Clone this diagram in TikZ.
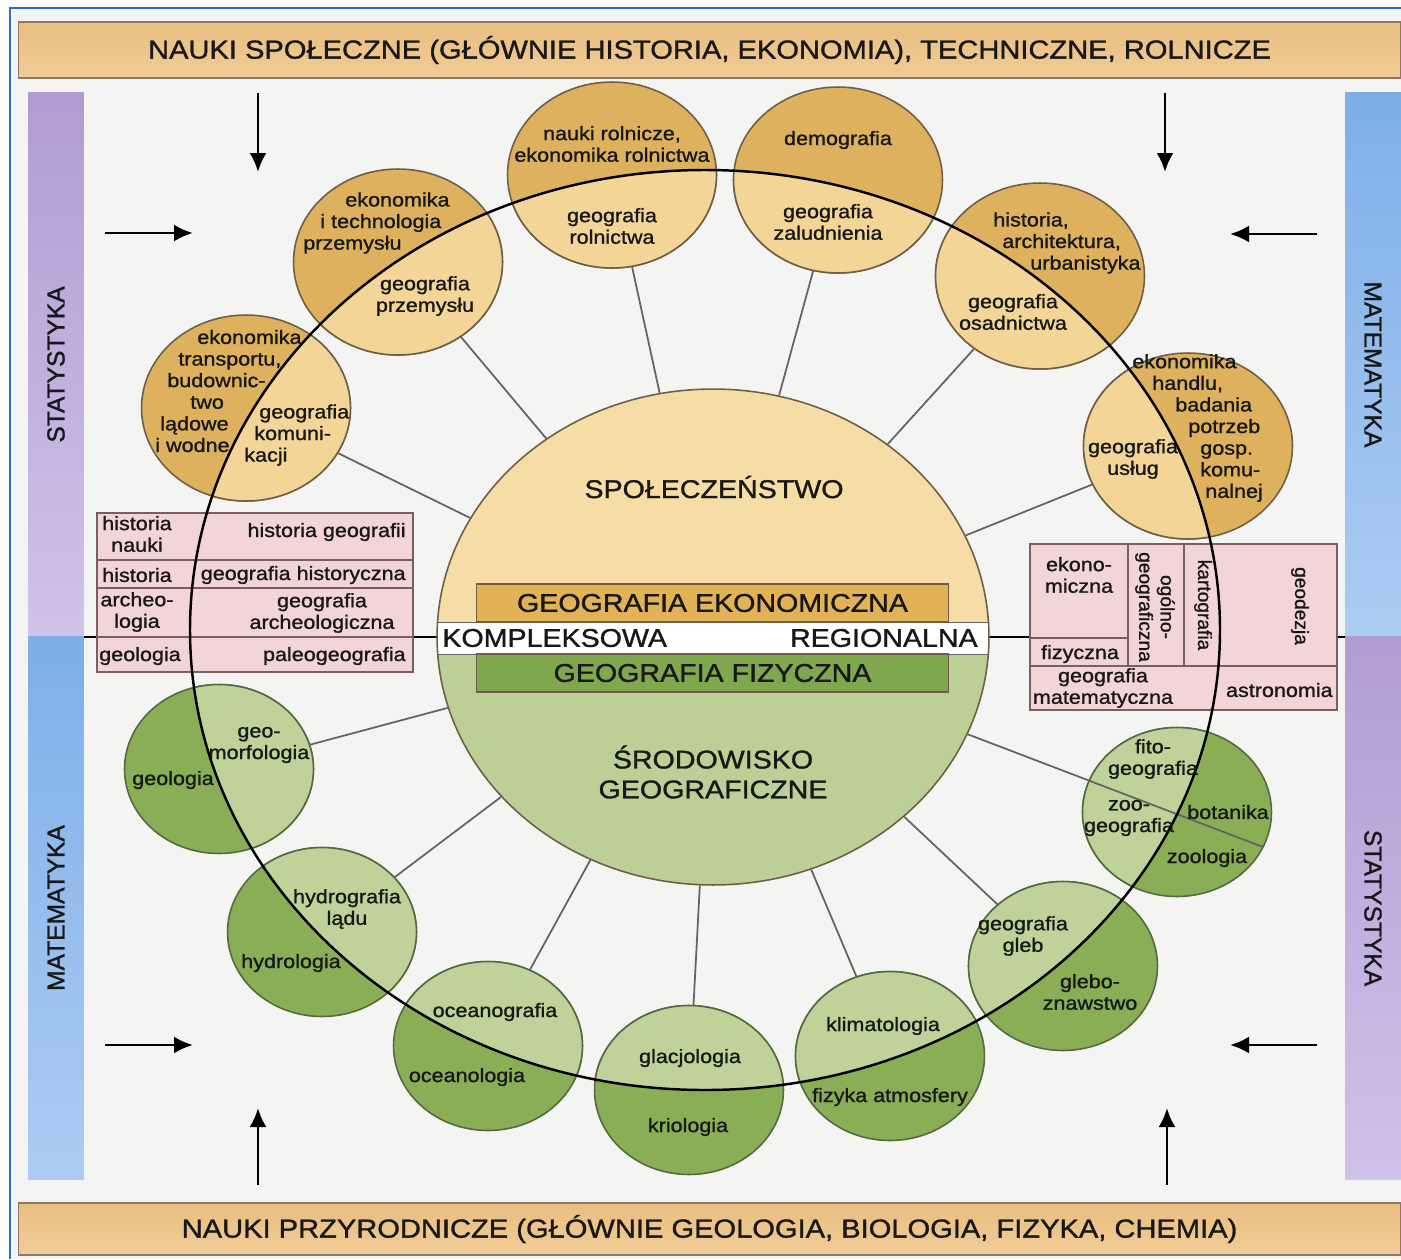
\documentclass[tikz,border=0pt]{standalone}
\usepackage{fontspec}
\setmainfont{Liberation Sans}[FakeStretch=1.115, FakeBold=1.2]
\newfontfamily\rotfont{Liberation Sans}[FakeBold=1.2]
\usetikzlibrary{shapes.geometric, arrows.meta, backgrounds}

\definecolor{paper}{RGB}{244,244,242}
\definecolor{frameblue}{RGB}{45,110,185}
\definecolor{ink}{RGB}{24,24,24}
\definecolor{orD}{RGB}{222,177,94}
\definecolor{orL}{RGB}{243,213,152}
\definecolor{orC}{RGB}{246,221,166}
\definecolor{orB}{RGB}{226,178,86}
\definecolor{grD}{RGB}{137,174,86}
\definecolor{grL}{RGB}{191,210,153}
\definecolor{grC}{RGB}{187,207,150}
\definecolor{grB}{RGB}{127,167,77}
\definecolor{pinkT}{RGB}{243,213,216}
\definecolor{barA}{RGB}{233,190,128}
\definecolor{barB}{RGB}{240,204,150}
\definecolor{barline}{RGB}{140,120,100}
\definecolor{purD}{RGB}{176,156,210}
\definecolor{purL}{RGB}{208,194,234}
\definecolor{bluD}{RGB}{126,174,232}
\definecolor{bluL}{RGB}{172,204,242}
\definecolor{edgeor}{RGB}{110,95,70}
\definecolor{edgegr}{RGB}{85,105,65}
\definecolor{linkgrey}{RGB}{100,100,100}
\definecolor{cellline}{RGB}{120,95,100}

\tikzset{
  bubor/.style={ellipse, draw=edgeor, line width=0.9pt, inner sep=0pt, minimum width=4.18cm, minimum height=3.72cm},
  bubgr/.style={ellipse, draw=edgegr, line width=0.9pt, inner sep=0pt, minimum width=3.78cm, minimum height=3.38cm},
  lbl/.style={font=\fontsize{11}{12.3}\selectfont, align=center, inner sep=0pt, text=ink},
  lbll/.style={lbl, align=left, anchor=west},
  big/.style={font=\fontsize{14.6}{17}\selectfont, align=center, inner sep=0pt, text=ink},
  rotlbl/.style={font=\rotfont\fontsize{10.9}{12.3}\selectfont, align=center, inner sep=0pt, text=ink, rotate=-90},
  link/.style={draw=linkgrey, line width=1pt},
  ring/.style={draw=black, line width=1.4pt},
  inarrow/.style={line width=1.6pt, -{Latex[length=3.8mm,width=3.4mm]}},
  cell/.style={draw=cellline, line width=0.8pt},
  bar/.style={draw=barline, line width=0.6pt, top color=barA, bottom color=barB, minimum width=27.66cm, inner sep=0pt, text=ink, font=\fontsize{14.85}{17}\selectfont},
  sidebar/.style={inner sep=0pt, minimum width=10.87cm, minimum height=1.12cm, text=ink, font=\rotfont\fontsize{14}{16}\selectfont},
  geobox/.style={draw=edgeor, line width=0.6pt, minimum width=9.46cm, minimum height=0.76cm, inner sep=0pt, text=ink, font=\fontsize{14.6}{17}\selectfont}
}

\begin{document}
\begin{tikzpicture}[x=0.02cm, y=-0.02cm]
\useasboundingbox (0,0) rectangle (1401,1259);
\begin{scope}[on background layer]
  \fill[white] (0,0) rectangle (1401,1259);
  \fill[paper] (10,8) rectangle (1401,1259);
  \draw[frameblue, line width=1.2pt] (10,1259) -- (10,8) -- (1401,8);
\end{scope}

\node[bar, minimum height=1.12cm] (socbar) at (709.5,50) {NAUKI SPOŁECZNE (GŁÓWNIE HISTORIA, EKONOMIA), TECHNICZNE, ROLNICZE};
\node[bar, minimum height=1.04cm] (natbar) at (709.5,1229) {NAUKI PRZYRODNICZE (GŁÓWNIE GEOLOGIA, BIOLOGIA, FIZYKA, CHEMIA)};

\node[sidebar, rotate=90, top color=purD, bottom color=purL] (statL) at (56,364.5) {STATYSTYKA};
\node[sidebar, rotate=90, top color=bluD, bottom color=bluL] (matL) at (56,908) {MATEMATYKA};
\node[sidebar, rotate=-90, top color=bluD, bottom color=bluL] (matR) at (1373,364.5) {MATEMATYKA};
\node[sidebar, rotate=-90, top color=purD, bottom color=purL] (statR) at (1373,908) {STATYSTYKA};

\foreach \name/\ax/\ay/\bx/\by in {tlv/258/93/258/172, tlh/105/233/193/233, trv/1165/93/1165/172, trh/1317/234/1230/234, blh/105/1045/193/1045, blv/258/1185/258/1108, brh/1317/1045/1230/1045, brv/1167/1185/1167/1108} {
  \coordinate (\name-s) at (\ax,\ay);
  \coordinate (\name-e) at (\bx,\by);
  \draw[inarrow] (\name-s) -- (\name-e);
}

\begin{scope}
  \clip (713,637) ellipse (276 and 248);
  \fill[grC] (420,637) rectangle (1010,900);
  \fill[orC] (420,380) rectangle (1010,637);
  \fill[white] (420,622) rectangle (1010,654);
  \draw[linkgrey, line width=0.5pt] (420,622) -- (1010,622) (420,654) -- (1010,654);
\end{scope}
\node[ellipse, draw=edgeor, line width=0.9pt, inner sep=0pt, minimum width=11.04cm, minimum height=9.92cm] (ctr) at (713,637) {};
\node[geobox, fill=orB] (ekon) at (712.5,603) {GEOGRAFIA EKONOMICZNA};
\node[geobox, fill=grB] (fizy) at (712.5,673) {GEOGRAFIA FIZYCZNA};

\node[bubor, fill=orD] (prz) at (398,262) {};
\node[bubor, fill=orD] (trn) at (246,408) {};
\node[bubor, fill=orD] (rol) at (612,175) {};
\node[bubor, fill=orD] (dem) at (838,180) {};
\node[bubor, fill=orD] (osa) at (1040,276) {};
\node[bubor, fill=orD] (usl) at (1188,446) {};
\node[bubgr, fill=grD] (mor) at (219,769) {};
\node[bubgr, fill=grD] (hyd) at (322,932) {};
\node[bubgr, fill=grD] (oce) at (488,1046) {};
\node[bubgr, fill=grD] (gla) at (689,1090) {};
\node[bubgr, fill=grD] (kli) at (890,1056) {};
\node[bubgr, fill=grD] (gle) at (1063,966) {};
\node[bubgr, fill=grD] (bio) at (1177,812) {};

\coordinate (rc) at (705,630);
\begin{scope}
  \clip (rc) ellipse (515 and 460);
  \foreach \n in {prz,trn,rol,dem,osa,usl}
    \node[bubor, fill=orL] (\n-in) at (\n) {};
  \foreach \n in {mor,hyd,oce,gla,kli,gle,bio}
    \node[bubgr, fill=grL] (\n-in) at (\n) {};
\end{scope}

\coordinate (bioend) at (1263,847);
\draw[link] (ctr) -- (bioend);

\draw[cell, fill=pinkT] (97,513) rectangle (413,672);
\draw[cell] (97,560) -- (413,560) (97,588) -- (413,588) (97,637) -- (413,637);
\draw[cell, fill=pinkT] (1030,544) rectangle (1337,710);
\draw[cell] (1030,638) -- (1128,638) (1030,666) -- (1337,666);
\draw[cell] (1128,544) -- (1128,666) (1184,544) -- (1184,666);

\draw[ring] (rc) ellipse (515 and 460);

\begin{scope}[on background layer]
  \coordinate (axisL) at (84,637);
  \coordinate (axisR) at (1345,637);
  \draw[black, line width=0.8pt] (axisL) -- (axisR);
  \foreach \n in {prz,trn,rol,dem,osa,usl,mor,hyd,oce,gla,kli,gle}
    \draw[link] (ctr) -- (\n);
\end{scope}

\node[big] (spol) at (714,487) {SPOŁECZEŃSTWO};
\node[big] (srod) at (713,772) {ŚRODOWISKO\\GEOGRAFICZNE};
\node[big, anchor=west] (komp) at (442,638) {KOMPLEKSOWA};
\node[big, anchor=east] (regi) at (978,638) {REGIONALNA};

\node[lbll] (prz-a) at (303,223) {\hspace*{8.4mm}ekonomika\\\hspace*{3.4mm}i technologia\\przemysłu};
\node[lbl] (prz-b) at (425,296) {geografia\\przemysłu};
\node[lbll] (trn-a) at (155,391) {\hspace*{8.4mm}ekonomika\\\hspace*{4.6mm}transportu,\\\hspace*{2.4mm}budownic-\\\hspace*{7mm}two\\\hspace*{1mm}lądowe\\i wodne};
\node[lbll] (trn-b) at (244,435) {\hspace*{3mm}geografia\\\hspace*{2mm}komuni-\\kacji};
\node[lbl] (rol-a) at (612,144) {nauki rolnicze,\\ekonomika rolnictwa};
\node[lbl] (rol-b) at (612,226) {geografia\\rolnictwa};
\node[lbl] (dem-a) at (838,140) {demografia};
\node[lbl] (dem-b) at (828,222) {geografia\\zaludnienia};
\node[lbll] (osa-a) at (993,243) {historia,\\\hspace*{1.8mm}architektura,\\\hspace*{7.4mm}urbanistyka};
\node[lbl] (osa-b) at (1013,312) {geografia\\osadnictwa};
\node[lbll] (usl-a) at (1132,428) {ekonomika\\\hspace*{4mm}handlu,\\\hspace*{8.6mm}badania\\\hspace*{11.2mm}potrzeb\\\hspace*{13.6mm}gosp.\\\hspace*{13.6mm}komu-\\\hspace*{14.6mm}nalnej};
\node[lbl] (usl-b) at (1133,459) {geografia\\usług};

\node[lbl] (mor-a) at (173,780) {geologia};
\node[lbl] (mor-b) at (259,745) {geo-\\morfologia};
\node[lbl] (hyd-a) at (291,963) {hydrologia};
\node[lbl] (hyd-b) at (347,909) {hydrografia\\lądu};
\node[lbl] (oce-b) at (495,1012) {oceanografia};
\node[lbl] (oce-a) at (467,1077) {oceanologia};
\node[lbl] (gla-b) at (690,1058) {glacjologia};
\node[lbl] (gla-a) at (688,1127) {kriologia};
\node[lbl] (kli-b) at (883,1026) {klimatologia};
\node[lbl] (kli-a) at (890,1097) {fizyka atmosfery};
\node[lbl] (gle-b) at (1023,936) {geografia\\gleb};
\node[lbl] (gle-a) at (1090,992) {glebo-\\znawstwo};
\node[lbl] (bio-b) at (1153,759) {fito-\\geografia};
\node[lbl] (bio-c) at (1129,818) {zoo-\\geografia};
\node[lbl] (bio-a) at (1228,812) {botanika};
\node[lbl] (bio-d) at (1207,858) {zoologia};

\node[lbl] (hnau) at (137,534) {historia\\nauki};
\node[lbl, anchor=east] (hgeo) at (406,532) {historia geografii};
\node[lbl] (hist) at (137,575) {historia};
\node[lbl, anchor=east] (ghist) at (406,575) {geografia historyczna};
\node[lbl] (arch) at (137,612) {archeo-\\logia};
\node[lbl] (garch) at (322,613) {geografia\\archeologiczna};
\node[lbl] (geol) at (140,656) {geologia};
\node[lbl, anchor=east] (paleo) at (406,656) {paleogeografia};

\node[lbl] (ekm) at (1079,575) {ekono-\\miczna};
\node[lbl] (fizc) at (1080,654) {fizyczna};
\node[rotlbl] (ogol) at (1155,607) {ogólno-\\geograficzna};
\node[rotlbl] (kart) at (1203,605) {kartografia};
\node[rotlbl] (geod) at (1300,606) {geodezja};
\node[lbl] (gmat) at (1103,688) {geografia\\matematyczna};
\node[lbl, anchor=east] (astr) at (1333,690) {astronomia};
\end{tikzpicture}
\end{document}
